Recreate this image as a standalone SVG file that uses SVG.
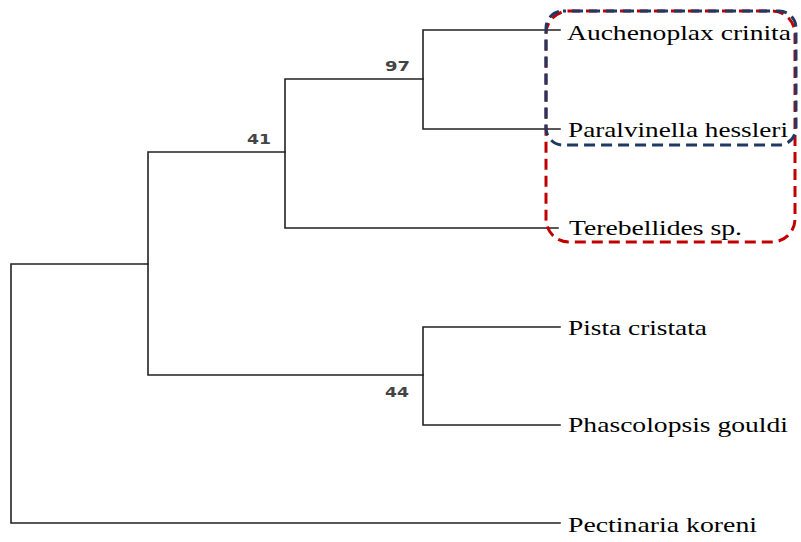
<svg xmlns="http://www.w3.org/2000/svg" width="801" height="542" viewBox="0 0 801 542">
<style>
.br{fill:none;stroke:#222;stroke-width:1.6;stroke-linecap:square}
.lbl{font-family:"Liberation Serif","Times New Roman",serif;font-size:21px;fill:#000}
.bs{font-family:"DejaVu Sans","Liberation Sans",sans-serif;font-size:14px;font-weight:bold;fill:#444}
.red{fill:none;stroke:#c00000;stroke-width:3;stroke-dasharray:11 6}
.blue{fill:none;stroke:#1f3864;stroke-width:3;stroke-dasharray:11 6}
</style>
<rect width="801" height="542" fill="#fff"/>
<g id="connectors">
<path class="br" d="M148,264 H11 V523 H560"/>
<path class="br" d="M285,152 H148 V375 H423"/>
<path class="br" d="M423,79 H285 V228 H558"/>
<path class="br" d="M560,30 H423 V129 H560"/>
<path class="br" d="M560,327 H423 V425 H560"/>
</g>
<g id="support">
<text class="bs" x="385" y="71" textLength="25" lengthAdjust="spacingAndGlyphs">97</text>
<text class="bs" x="247" y="144" textLength="24" lengthAdjust="spacingAndGlyphs">41</text>
<text class="bs" x="385" y="397" textLength="24" lengthAdjust="spacingAndGlyphs">44</text>
</g>
<g id="node-auchenoplax"><text class="lbl" x="567" y="40" textLength="224" lengthAdjust="spacingAndGlyphs">Auchenoplax crinita</text></g>
<g id="node-paralvinella"><text class="lbl" x="568" y="137" textLength="220" lengthAdjust="spacingAndGlyphs">Paralvinella hessleri</text></g>
<g id="node-terebellides"><text class="lbl" x="569" y="235" textLength="173" lengthAdjust="spacingAndGlyphs">Terebellides sp.</text></g>
<g id="node-pista"><text class="lbl" x="568" y="335" textLength="139" lengthAdjust="spacingAndGlyphs">Pista cristata</text></g>
<g id="node-phascolopsis"><text class="lbl" x="568" y="432" textLength="220" lengthAdjust="spacingAndGlyphs">Phascolopsis gouldi</text></g>
<g id="node-pectinaria"><text class="lbl" x="568" y="532" textLength="189" lengthAdjust="spacingAndGlyphs">Pectinaria koreni</text></g>
<g id="boxes">
<rect class="red" x="546" y="11" width="249" height="231" rx="23" ry="23"/>
<rect class="blue" x="546" y="11" width="250" height="134" rx="17" ry="17" stroke-dashoffset="8"/>
</g>
</svg>
